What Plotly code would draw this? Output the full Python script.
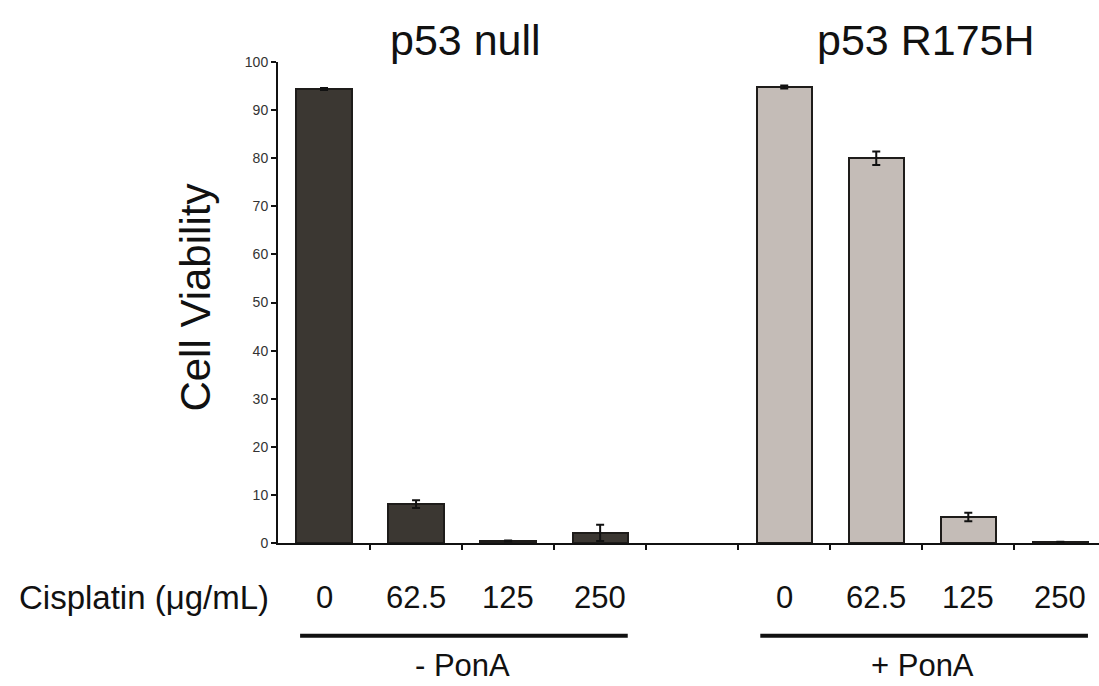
import plotly.graph_objects as go

doses = ["0", "62.5", "125", "250"]
null_vals = [94.4, 8.1, 0.4, 2.1]
null_err = [0.2, 0.8, 0.1, 1.7]
mut_vals = [94.8, 80.0, 5.4, 0.2]
mut_err = [0.3, 1.4, 0.9, 0.05]
groups = ["p53 null", "p53 R175H"]
treat = ["- PonA", "+ PonA"]
y_ticks = list(range(0, 101, 10))

FONT = "Arial, Liberation Sans, sans-serif"
n = len(doses)
x_null = list(range(n))
x_mut = [n + 1 + i for i in range(n)]

fig = go.Figure()
fig.add_trace(go.Bar(
    x=x_null, y=null_vals, width=0.6,
    marker=dict(color="#3b3732", line=dict(color="#1e1c1a", width=2)),
    error_y=dict(type="data", array=null_err, color="#111", thickness=2, width=4),
    showlegend=False))
fig.add_trace(go.Bar(
    x=x_mut, y=mut_vals, width=0.6,
    marker=dict(color="#c4bcb7", line=dict(color="#1e1c1a", width=2)),
    error_y=dict(type="data", array=mut_err, color="#111", thickness=2, width=4),
    showlegend=False))

ann = []
# dose labels below axis
for xs in (x_null, x_mut):
    for xv, lab in zip(xs, doses):
        ann.append(dict(x=xv, y=-0.114, xref="x", yref="paper", text=lab,
                        showarrow=False, font=dict(size=31, color="#111", family=FONT),
                        xanchor="center", yanchor="middle"))
ann.append(dict(x=-0.008, y=-0.114, xref="paper", yref="paper", text="Cisplatin (\u03bcg/mL)",
                showarrow=False, font=dict(size=33, color="#111", family=FONT),
                xanchor="right", yanchor="middle"))
# group titles
for xs, g in zip((x_null, x_mut), groups):
    ann.append(dict(x=(xs[0] + xs[-1]) / 2 + 0.04, y=1.046, xref="x", yref="paper", text=g,
                    showarrow=False, font=dict(size=43, color="#111", family=FONT),
                    xanchor="center", yanchor="middle"))
# treatment labels
for xs, t in zip((x_null, x_mut), treat):
    ann.append(dict(x=(xs[0] + xs[-1]) / 2, y=-0.254, xref="x", yref="paper", text=t,
                    showarrow=False, font=dict(size=31, color="#111", family=FONT),
                    xanchor="center", yanchor="middle"))
# y title
ann.append(dict(x=-0.1, y=0.51, xref="paper", yref="paper", text="Cell Viability",
                textangle=-90, showarrow=False,
                font=dict(size=42, color="#111", family=FONT),
                xanchor="center", yanchor="middle"))

shapes = []
for xs in (x_null, x_mut):
    shapes.append(dict(type="line", xref="x", yref="paper",
                       x0=xs[0] - 0.26, x1=xs[-1] + 0.3, y0=-0.193, y1=-0.193,
                       line=dict(color="#111", width=4)))

fig.update_layout(
    width=1099, height=686,
    margin=dict(l=278, r=0, t=62, b=143),
    paper_bgcolor="white", plot_bgcolor="white",
    annotations=ann, shapes=shapes,
    bargap=0,
    xaxis=dict(range=[-0.5, 8.42], tickvals=[i + 0.5 for i in range(2 * n)],
               ticktext=[""] * (2 * n), ticks="outside", ticklen=5, tickwidth=2,
               tickcolor="#111", showline=True, linecolor="#111", linewidth=2,
               showgrid=False, zeroline=False, fixedrange=True),
    yaxis=dict(range=[0, 100], tickvals=y_ticks, ticks="outside", ticklen=5,
               tickwidth=2, tickcolor="#111", showline=True, linecolor="#111",
               linewidth=2, showgrid=False, zeroline=False,
               tickfont=dict(size=14, color="#333", family=FONT)),
)

fig.write_html("out.html")
